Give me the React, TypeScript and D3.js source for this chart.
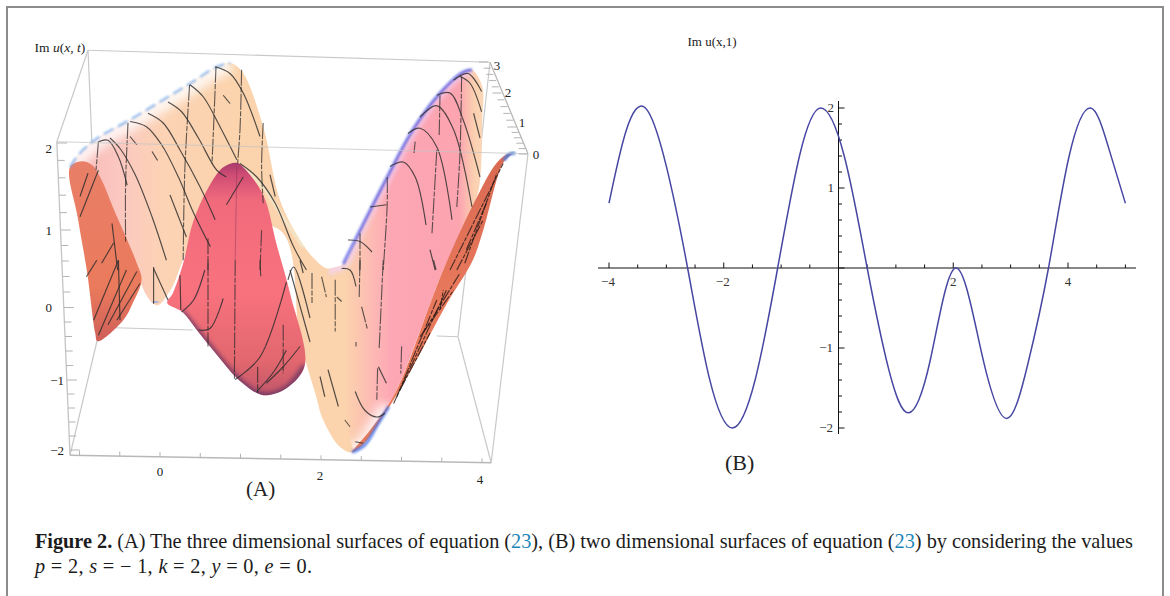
import * as d3 from "d3";
import React from "react";

type P = [number, number];

// ---- Panel B: Im u(x,1)
const curveX = [-4,-3.7,-3.365,-3,-2.63,-2.25,-1.85,-1.45,-1.06,-0.68,-0.31,0.1,0.5,0.88,1.22,1.6,2.04,2.5,2.93,3.3,3.66,4.02,4.39,4.7,5];
const curveY = [0.81,1.72,2,1.27,0,-1.38,-2,-1.39,0,1.4,2,1.4,0,-1.28,-1.81,-1.15,0,-1.08,-1.88,-1.2,0,1.4,2,1.52,0.81];
const xTickLabels = [-4, -2, 2, 4];
const yTickLabels = [-2, -1, 1, 2];

// ---- Panel A: box axes
const zTicks = [-2, -1, 0, 1, 2];
const tTicks = [0, 1, 2, 3];
const xBoxTicks = [0, 2, 4];

// ---- Panel A: surface silhouettes, read in x / z units of the picture plane
const ridgeLeft: P[] = [[-1.125,1.77],[-1,1.96],[-0.78,2.16],[-0.38,2.4],[0.04,2.67],[0.38,2.89],[0.71,3.11],[0.88,3.16]];
const descent: P[] = [[1.03,3.04],[1.29,2.31],[1.5,1.33],[1.75,0.8],[1.91,0.57],[2.06,0.43],[2.19,0.4]];
const peachLower: P[] = [[2.19,0.2],[2.31,-0.53],[2.48,-1.33],[2.53,-1.87],[2.4,-2.03],[2.25,-1.96],[2.04,-1.6],[1.94,-1.24],[1.75,-0.53],[1.5,0.93],[0.5,0.87],[0.13,0.13],[-0.03,-0.07],[-0.13,0],[-0.31,0.4],[-0.63,1.2],[-0.94,1.8]];
const ridgeRight: P[] = [[2.1,0.4],[2.29,0.48],[2.5,0.93],[2.84,1.64],[3.16,2.27],[3.5,2.76],[3.79,3.04],[3.9,3.07]];
const pinkSide: P[] = [[4.03,2.84],[4.03,2.44],[3.99,1.51],[3.9,1.2],[3.54,0.4],[3.38,-0.04],[2.94,-1.24],[2.69,-1.67],[2.44,-2]];
const pinkInner: P[] = [[2.3,-1.33],[2.13,-0.53],[2.02,0.2]];
const redLeft: P[] = [[-1.125,1.77],[-0.98,1.85],[-0.85,1.8],[-0.73,1.6],[-0.59,1.24],[-0.41,0.8],[-0.29,0.49],[-0.23,0.27],[-0.34,-0.04],[-0.46,-0.27],[-0.78,-0.55],[-0.81,-0.44],[-0.91,0.36],[-1.03,1.11]];
const hump: P[] = [[0.09,-0.04],[0.16,0.09],[0.29,0.49],[0.41,1.03],[0.59,1.47],[0.79,1.77],[0.96,1.83],[1.04,1.77],[1.29,1.4],[1.46,0.73],[1.63,0.07],[1.81,-0.87],[1.59,-1.17],[1.34,-1.27],[1.21,-1.24],[0.96,-1.04],[0.71,-0.73],[0.46,-0.4],[0.28,-0.16]];
const foldEdge: P[] = [[1.04,1.76],[1.29,1.5],[1.54,1.1],[1.79,0.7]];
const orangeBand: P[] = [[4.41,1.96],[4.29,1.83],[4.04,0.93],[3.91,0.53],[3.59,-0.04],[3.16,-0.89],[2.84,-1.47],[2.54,-1.93],[2.4,-2.03],[2.63,-1.73],[2.94,-1.24],[3.38,-0.04],[3.54,0.4],[3.9,1.24],[4.21,1.83],[4.35,1.95]];
const tipBottom: P[] = [[2.4,-2.03],[2.56,-1.93],[2.72,-1.66],[2.86,-1.42]];
const tipRight: P[] = [[4.3,1.86],[4.36,1.94],[4.44,1.96]];
const cusp: P[] = [[-0.09,-0.03],[-0.02,-0.02]];

// ---- Panel A: mesh lines on the surface
const meshSolid: P[][] = [
  [[-0.77,2.11],[-0.65,2.13],[-0.52,1.91],[-0.41,1.53]],
  [[-0.625,2.16],[-0.5,2.02],[-0.31,1.67],[-0.1,1.11],[0.08,0.53]],
  [[-0.375,2.38],[-0.17,2.31],[0.02,2.07],[0.23,1.64],[0.42,1.16],[0.63,0.71]],
  [[-0.15,2.49],[0.04,2.36],[0.25,2],[0.5,1.51],[0.69,1.07]],
  [[0.1,2.64],[0.27,2.51],[0.48,2.16],[0.71,1.73],[0.83,1.64]],
  [[0.375,2.87],[0.54,2.71],[0.75,2.31],[0.96,1.87]],
  [[0.69,3.11],[0.875,3.02],[1.04,2.76],[1.25,2.18]],
  [[0.79,2.73],[0.875,2.62]],
  [[-0.1,1.98],[-0.03,1.86]],
  [[-0.375,2.18],[-0.29,2.07]],
  [[0.125,1.4],[0.33,0.84]],
  [[1,1.82],[1.21,1.64],[1.44,1.29],[1.67,0.71],[1.83,0.4]],
  [[1.375,1.67],[1.44,1.38]],
  [[-0.77,1.73],[-1,1.11]],
  [[-0.9,1.69],[-1,1.38]],
  [[-0.6,1.02],[-0.53,0.4]],
  [[-0.73,0.49],[-0.58,0.76]],
  [[0.83,1.27],[1.04,1.64]],
  [[-0.92,0.31],[-0.79,0.53]],
  [[-0.83,-0.27],[-0.52,0.53]],
  [[-0.77,-0.47],[-0.42,0.4]],
  [[-0.65,-0.33],[-0.29,0.38]],
  [[-0.54,-0.27],[-0.25,0.22]],
  [[-0.52,0.53],[-0.5,-0.27]],
  [[-0.08,0.44],[-0.08,-0.05]],
  [[-0.08,0.42],[0.1,0]],
  [[0.25,0.33],[0.26,-0.13]],
  [[0.27,-0.16],[0.42,0],[0.56,0.4]],
  [[0.48,-0.4],[0.625,-0.38],[0.79,0.02]],
  [[0.94,-1.06],[1.25,-0.76],[1.58,0.24]],
  [[1.21,-1.22],[1.42,-0.96],[1.58,-0.67]],
  [[1.33,-1.11],[1.54,-0.89],[1.75,-0.62]],
  [[1.6,0.27],[1.67,0.44],[1.875,-0.24]],
  [[1.625,0.4],[1.875,-0.56]],
  [[1.75,0.53],[1.79,0.36]],
  [[2.1,-0.93],[2.23,-1.42]],
  [[2,-1.02],[2.06,-1.29]],
  [[2.27,0.42],[2.375,0.4],[2.45,0.18]],
  [[2.73,-0.89],[2.83,-1.11]],
  [[2.44,-1.22],[2.56,-1.47],[2.71,-1.56],[2.81,-1.51]],
  [[2.44,-1.89],[2.54,-1.91]],
  [[2.875,1.78],[3.04,1.84],[3.19,1.64],[3.325,1]],
  [[3.1,2.22],[3.25,2.29],[3.46,2.04],[3.65,1.07]],
  [[3.25,2.44],[3.46,2.59],[3.67,2.27],[3.9,1.24]],
  [[3.46,2.73],[3.625,2.76],[3.79,2.4],[4,1.64]],
  [[3.67,2.93],[3.85,3.02],[4.02,2.78]],
  [[3.75,2.98],[3.875,2.89],[4.02,2.51]],
  [[3.92,2.49],[4,2.16]],
  [[2.35,0.8],[2.5,0.78],[2.65,0.64]],
  [[2.625,1.24],[2.83,1.27]],
  [[3.375,0.67],[3.44,0.4]],
];
const meshDashed: P[][] = [
  [[-0.77,2.11],[-0.8,1.73]],
  [[0.37,2.87],[0.31,1.73],[0.29,0.53]],
  [[0.7,3.11],[0.67,2.31],[0.65,1.82]],
  [[1.02,3.07],[1,2.27],[0.97,1.82]],
  [[1.29,2.36],[1.27,1.78],[1.29,1.29]],
  [[-0.4,2.36],[-0.43,1.56],[-0.43,0.76]],
  [[0.6,0.82],[0.6,0.4]],
  [[1.27,0.93],[1.25,0.4]],
  [[0.6,0.53],[0.6,-0.62]],
  [[0.94,0.53],[0.93,-1.07]],
  [[1.22,-0.89],[1.22,-1.24]],
  [[1.54,-0.33],[1.54,-0.98]],
  [[1.25,0.53],[1.26,0.31]],
  [[1.9,0.36],[1.9,-0.04]],
  [[2.02,0.31],[2.08,0.04]],
  [[2.19,0.27],[2.19,-0.42]],
  [[2.21,0.04],[2.27,-0.02]],
  [[2.5,0.53],[2.49,0.04]],
  [[2.79,0.53],[2.74,-0.64]],
  [[3.42,0.53],[3.45,0.4]],
  [[2.52,-0.09],[2.59,-0.38]],
  [[2.45,-0.56],[2.45,-0.62]],
  [[3.02,-0.62],[3.01,-0.98]],
  [[2.72,-0.91],[2.71,-1.33]],
  [[2.31,-1.6],[2.375,-1.69]],
  [[2.84,1.64],[2.84,1.27],[2.79,0.4]],
  [[3.5,2.73],[3.49,2.2]],
  [[3.77,2.98],[3.75,1.96],[3.71,1.24]],
  [[3.46,2],[3.4,0.89]],
  [[3.19,2.11],[3.175,1.96]],
  [[2.5,0.89],[2.5,0.4]],
];
const meshFaint: P[][] = [
  [[0.94,0.53],[0.96,1.78]],
];
const meshOrange: P[][] = [
  [[2.92,-1.38],[3.58,0.13]],
  [[2.96,-1.29],[3.46,0]],
  [[3.25,-0.49],[3.67,0.13]],
  [[3,-1.2],[3.375,-0.44]],
  [[3.5,-0.13],[3.54,0.13]],
  [[3.29,-0.44],[3.75,0.36]],
  [[3.625,0.4],[4.29,1.82]],
  [[3.81,0.49],[4.21,1.69]],
  [[3.71,0.4],[4.04,1.07]],
  [[3.83,0.67],[4.08,1.29]],
];

// ---- Panel A: box corners in the same picture-plane units
const topBackL: P = [-0.9,3.33], topBackR: P = [4.125,3.17], topFrontL: P = [-1.29,2.11], topFrontR: P = [4.6,1.95];
const botFrontL: P = [-1.125,-2.07], botFrontR: P = [4.14,-2.17], botBackL: P = [-0.775,-0.49], botBackR: P = [3.725,-0.49];
const backLeftEnd: P = [-0.85,2.07], backRightEnd: P = [4,1.96], botBackMidL: P = [-0.56,-0.37], botBackMidL2: P = [0.41,-0.4], botBackMidR: P = [3.46,-0.48];

const W = 1170, H = 596;
const serif = "'Liberation Serif', 'Times New Roman', serif";

// picture plane of panel A
const planeH = d3.scaleLinear().domain([0, 4]).range([160, 480]);
const planeV = d3.scaleLinear().domain([-2, 2]).range([450, 150]);
const openLine = d3.line<P>().x(d => planeH(d[0])).y(d => planeV(d[1]));
const smooth = d3.line<P>().x(d => planeH(d[0])).y(d => planeV(d[1])).curve(d3.curveCatmullRom.alpha(0.5));
const closed = d3.line<P>().x(d => planeH(d[0])).y(d => planeV(d[1])).curve(d3.curveCatmullRomClosed.alpha(0.5));
const seg = (a: P, b: P) => openLine([a, b]) as string;

// panel A axes (perspective, so piecewise)
const zY = d3.scaleLinear().domain(zTicks).range([450, 380, 307.5, 230, 143]);
const zAxisX = d3.scaleLinear().domain([143, 455]).range([57, 70]);
const tY = d3.scaleLinear().domain(tTicks).range([154, 127, 93, 62]);
const tAxisX = d3.scaleLinear().domain([154, 62]).range([528, 488]);
const boxX = d3.scaleLinear().domain([0, 4]).range([160, 482]);
const boxBottom = d3.scaleLinear().domain([70, 491]).range([455, 463]);
const zMinor = d3.range(-2, 2.001, 0.2);
const tMinor = d3.range(0, 3.001, 0.2);
const xMinor = d3.range(-1, 4.001, 0.5);

// panel B
const bx = d3.scaleLinear().domain([-4, 4]).range([609, 1068]);
const by = d3.scaleLinear().domain([-2, 2]).range([428, 108]);
const curvePts: P[] = curveX.map((x, i) => [x, curveY[i]]);
const bLine = d3.line<P>().x(d => bx(d[0])).y(d => by(d[1])).curve(d3.curveNatural);
const bxTicks = d3.range(-4, 5.001, 0.5);
const byTicks = d3.range(-2, 2.001, 0.2);

const sheetLeft = [...ridgeLeft, ...descent, ...peachLower];
const sheetRight = [...ridgeRight, ...pinkSide, ...pinkInner];
const humpRim = hump.slice(11, 19);

export default function App() {
  return (
    <svg width={W} height={H} viewBox={`0 0 ${W} ${H}`}
      style={{ position: "absolute", left: 0, top: 0, background: "#fff", fontFamily: serif }}>
      <defs>
        <filter id="b1" x="-20%" y="-20%" width="140%" height="140%"><feGaussianBlur stdDeviation="1" /></filter>
        <filter id="b2" x="-20%" y="-20%" width="140%" height="140%"><feGaussianBlur stdDeviation="2.2" /></filter>
        <filter id="b4" x="-20%" y="-20%" width="140%" height="140%"><feGaussianBlur stdDeviation="5" /></filter>
        <filter id="soft" x="-5%" y="-5%" width="110%" height="110%"><feGaussianBlur stdDeviation="0.35" /></filter>
        <linearGradient id="gLeft" gradientUnits="userSpaceOnUse" x1="70" y1="0" x2="240" y2="0">
          <stop offset="0" stopColor="#f8b8b6" />
          <stop offset="0.3" stopColor="#fbc8c0" />
          <stop offset="0.55" stopColor="#fcd3b4" />
          <stop offset="1" stopColor="#fbd3ac" />
        </linearGradient>
        <linearGradient id="gRight" gradientUnits="userSpaceOnUse" x1="345" y1="0" x2="484" y2="0">
          <stop offset="0" stopColor="#fbd3ac" />
          <stop offset="0.2" stopColor="#fdb9b4" />
          <stop offset="0.34" stopColor="#fda6b4" />
          <stop offset="0.82" stopColor="#fca4b0" />
          <stop offset="0.93" stopColor="#fbd0b0" />
          <stop offset="1" stopColor="#fbd8b8" />
        </linearGradient>
        <linearGradient id="gRed" gradientUnits="userSpaceOnUse" x1="0" y1="160" x2="0" y2="342">
          <stop offset="0" stopColor="#e97f68" />
          <stop offset="0.7" stopColor="#ea7a5c" />
          <stop offset="1" stopColor="#cf5f58" />
        </linearGradient>
        <linearGradient id="gHump" gradientUnits="userSpaceOnUse" x1="0" y1="163" x2="0" y2="396">
          <stop offset="0" stopColor="#a83a6c" />
          <stop offset="0.05" stopColor="#cf4c74" />
          <stop offset="0.16" stopColor="#f06a7c" />
          <stop offset="0.55" stopColor="#f8727e" />
          <stop offset="0.85" stopColor="#e2676e" />
          <stop offset="1" stopColor="#c0566a" />
        </linearGradient>
        <linearGradient id="gOrange" gradientUnits="userSpaceOnUse" x1="0" y1="153" x2="0" y2="452">
          <stop offset="0" stopColor="#d96a52" />
          <stop offset="0.5" stopColor="#e8795c" />
          <stop offset="1" stopColor="#e87a58" />
        </linearGradient>
        <clipPath id="clipLeft"><path d={closed(sheetLeft) as string} /></clipPath>
        <clipPath id="clipRight"><path d={closed(sheetRight) as string} /></clipPath>
        <clipPath id="clipHump"><path d={closed(hump) as string} /></clipPath>
      </defs>

      {/* page frame */}
      <path d={`M7,${H}V7H1163V${H}`} fill="none" stroke="#8c8c8c" strokeWidth={2} />

      {/* box, rear edges */}
      <g stroke="#c9c9c9" strokeWidth={1.2} fill="none">
        <path d={seg(topBackL, topBackR)} />
        <path d={seg(topBackL, topFrontL)} />
        <path d={seg(topBackL, backLeftEnd)} />
        <path d={seg(topBackR, backRightEnd)} />
        <path d={seg(topBackR, topFrontR)} stroke="#b5b5b5" />
        <path d={seg(topFrontR, botFrontR)} />
        <path d={seg(botBackR, botFrontR)} />
        <path d={seg(botBackR, backRightEnd)} />
        <path d={seg(botBackMidR, botBackR)} />
        <path d={seg(botBackL, botFrontL)} />
        <path d={seg(botBackMidL, botBackMidL2)} />
      </g>

      {/* surface */}
      <path d={closed(sheetLeft) as string} fill="url(#gLeft)" />
      <g clipPath="url(#clipLeft)">
        <path d={smooth(ridgeLeft) as string} fill="none" stroke="#fff" strokeWidth={22} opacity={0.8} filter="url(#b4)" />
      </g>
      <path d={closed(sheetRight) as string} fill="url(#gRight)" />
      <g clipPath="url(#clipRight)">
        <path d={smooth(ridgeRight) as string} fill="none" stroke="#f3d4f8" strokeWidth={10} opacity={0.7} filter="url(#b2)" />
        <path d={smooth(tipBottom) as string} fill="none" stroke="#fff" strokeWidth={18} opacity={0.8} filter="url(#b4)" />
      </g>
      <path d={closed(redLeft) as string} fill="url(#gRed)" />
      <path d={smooth(foldEdge) as string} fill="none" stroke="#eef0d8" strokeWidth={2.4} opacity={0.85} filter="url(#b1)" />
      <path d={closed(hump) as string} fill="url(#gHump)" />
      <g clipPath="url(#clipHump)">
        <path d={smooth(humpRim) as string} fill="none" stroke="#4c2a62" strokeWidth={5} opacity={0.7} filter="url(#b2)" />
      </g>
      <path d={closed(orangeBand) as string} fill="url(#gOrange)" />

      {/* blue rims */}
      <path d={smooth(ridgeLeft) as string} fill="none" stroke="#6fa6ea" strokeWidth={2.4} opacity={0.7} strokeDasharray="11 5" filter="url(#b1)" />
      <path d={smooth(ridgeRight.slice(1)) as string} fill="none" stroke="#4b50dc" strokeWidth={3} opacity={0.75} filter="url(#b1)" />
      <path d={smooth(tipBottom) as string} fill="none" stroke="#4f78e6" strokeWidth={3.2} opacity={0.85} filter="url(#b1)" />
      <path d={smooth(tipRight) as string} fill="none" stroke="#4a7fe0" strokeWidth={3} filter="url(#b1)" />
      <path d={openLine(cusp) as string} fill="none" stroke="#6a9af0" strokeWidth={2.2} filter="url(#b1)" />

      {/* mesh */}
      <g filter="url(#soft)">
        <g fill="none" stroke="#2b2b2b" strokeWidth={1.15} strokeOpacity={0.82}>
          {meshSolid.map((l, i) => <path key={i} d={smooth(l) as string} />)}
        </g>
        <g fill="none" stroke="#2b2b2b" strokeWidth={1.1} strokeOpacity={0.75} strokeDasharray="16 1.5 5 1.5">
          {meshDashed.map((l, i) => <path key={i} d={smooth(l) as string} />)}
        </g>
        <g fill="none" stroke="#7a2a50" strokeWidth={0.9} strokeOpacity={0.45}>
          {meshFaint.map((l, i) => <path key={i} d={smooth(l) as string} />)}
        </g>
        <g fill="none" stroke="#2a1a18" strokeWidth={1.15} strokeOpacity={0.8} strokeDasharray="12 1.5 4 1.5">
          {meshOrange.map((l, i) => <path key={i} d={smooth(l) as string} />)}
        </g>
      </g>

      {/* box, front edges over the surface */}
      <g stroke="#c4c4c4" fill="none">
        <path d={seg(topFrontL, topFrontR)} strokeWidth={1.1} strokeOpacity={0.75} />
        <path d={seg(topFrontL, botFrontL)} strokeWidth={1.3} />
        <path d={seg(botFrontL, botFrontR)} strokeWidth={1.4} stroke="#b8b8b8" />
      </g>

      {/* panel A ticks */}
      <g stroke="#b4b4b4" strokeWidth={1}>
        {zMinor.map(z => {
          const y = zY(z); const x = zAxisX(y); const major = Math.abs(z - Math.round(z)) < 1e-6;
          return <line key={z} x1={x} x2={x + (major ? 10 : 7)} y1={y} y2={y} />;
        })}
        {tMinor.map(t => {
          const y = tY(t); const x = tAxisX(y); const major = Math.abs(t - Math.round(t)) < 1e-6;
          return <line key={t} x1={x} x2={x - (major ? 9 : 7)} y1={y} y2={y} />;
        })}
        {xMinor.map(v => {
          const x = boxX(v); const y = boxBottom(x);
          return <line key={v} x1={x} x2={x} y1={y} y2={y - 4.5} />;
        })}
      </g>
      <g fontSize={13} fill="#222">
        {zTicks.map(z => (
          <text key={z} x={z < 0 ? 64 : 52} y={zY(z) + (z === 2 ? 10 : 4.5)} textAnchor="end">
            {z < 0 ? `\u2212${-z}` : z}
          </text>
        ))}
        {tTicks.map((t, i) => (
          <text key={t} x={[536, 522, 508, 497][i]} y={[158.5, 126.5, 96.5, 69.5][i]} textAnchor="middle">{t}</text>
        ))}
        {xBoxTicks.map((v, i) => (
          <text key={v} x={[160, 320, 480][i]} y={[475.5, 479.5, 483.5][i]} textAnchor="middle">{v}</text>
        ))}
      </g>
      <text x={34.5} y={52} fontSize={13.5} fill="#222">Im <tspan fontStyle="italic">u</tspan>(<tspan fontStyle="italic">x</tspan>,  <tspan fontStyle="italic">t</tspan>)</text>
      <text x={246} y={496} fontSize={21} fill="#222">(A)</text>

      {/* panel B */}
      <g stroke="#111" strokeWidth={1} fill="none">
        <line x1={598} x2={1136} y1={by(0)} y2={by(0)} />
        <line x1={bx(0)} x2={bx(0)} y1={101} y2={434} />
        {bxTicks.map(v => {
          const major = Math.abs(v / 2 - Math.round(v / 2)) < 1e-6;
          return <line key={v} x1={bx(v)} x2={bx(v)} y1={by(0)} y2={by(0) - (major ? 5.5 : 3.5)} />;
        })}
        {byTicks.map(v => {
          const major = Math.abs(v - Math.round(v)) < 1e-6;
          return <line key={v} x1={bx(0)} x2={bx(0) + (major ? 6 : 3.5)} y1={by(v)} y2={by(v)} />;
        })}
      </g>
      <path d={bLine(curvePts) as string} fill="none" stroke="#4747a3" strokeWidth={1.5} />
      <g fontSize={13} fill="#333">
        {xTickLabels.map(v => (
          <text key={v} x={bx(v) - (v < 0 ? 1 : 0)} y={285.5} textAnchor="middle">{v < 0 ? `\u2212${-v}` : v}</text>
        ))}
        {yTickLabels.map(v => (
          <text key={v} x={by(v) > 267 ? 833 : 834} y={by(v) + 4} textAnchor="end">{v < 0 ? `\u2212${-v}` : v}</text>
        ))}
      </g>
      <text x={687.5} y={46} fontSize={13} fill="#222">Im u(x,1)</text>
      <text x={725} y={470} fontSize={22} fill="#222">(B)</text>

      {/* caption */}
      <text x={35} y={548} fontSize={20.3} fill="#1c1c1c" textLength={1098} lengthAdjust="spacing">
        <tspan fontWeight="bold">Figure 2.</tspan> (A) The three dimensional surfaces of equation (<tspan fill="#1b86b8">23</tspan>), (B) two dimensional surfaces of equation (<tspan fill="#1b86b8">23</tspan>) by considering the values
      </text>
      <text x={35} y={573} fontSize={20.3} fill="#1c1c1c" textLength={277} lengthAdjust="spacing">
        <tspan fontStyle="italic">p</tspan> = 2, <tspan fontStyle="italic">s</tspan> = − 1, <tspan fontStyle="italic">k</tspan> = 2, <tspan fontStyle="italic">y</tspan> = 0, <tspan fontStyle="italic">e</tspan> = 0.
      </text>
    </svg>
  );
}
